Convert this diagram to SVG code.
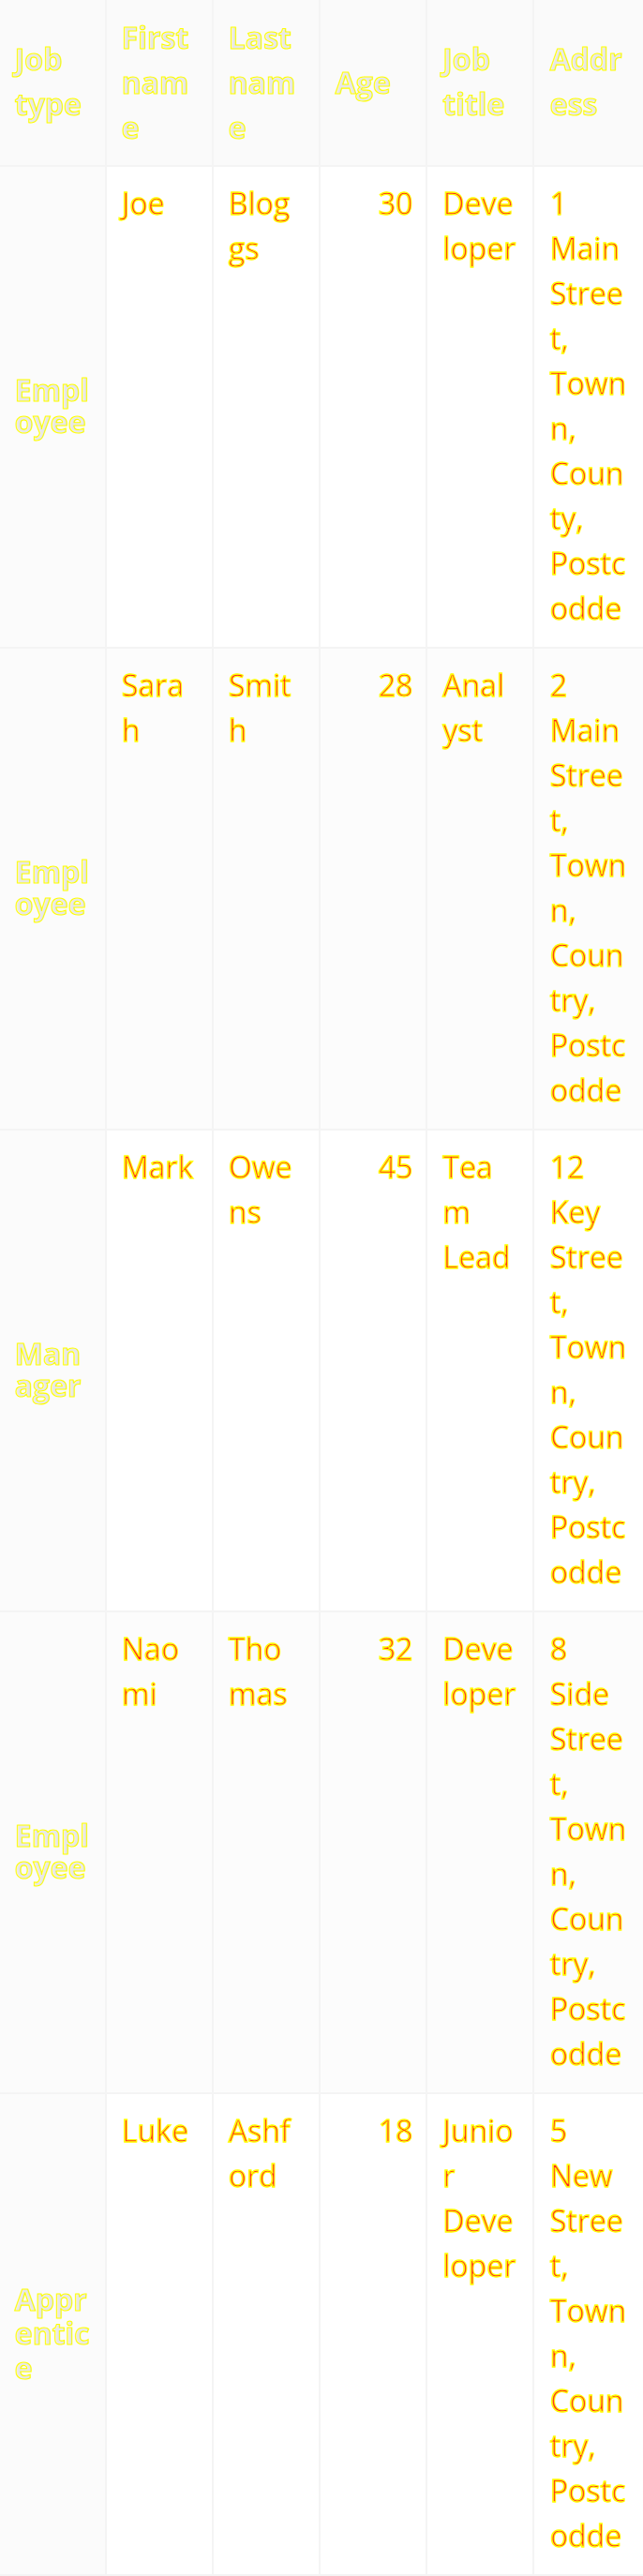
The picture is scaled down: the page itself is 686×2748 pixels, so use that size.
<svg xmlns="http://www.w3.org/2000/svg" width="686" height="2748" viewBox="0 0 686 2748">
<style>
.bd{fill:#f4f4f4}
.hc{fill:#fafafa}
.fc{fill:#fbfbfb}
.wc{fill:#ffffff}
.gc{fill:#fcfcfc}
text{font-family:"Open Sans","DejaVu Sans",sans-serif;font-size:32px}
.h{font-weight:bold;fill:#e8e8e8;stroke:#ffff00;stroke-width:1.1}
.d{fill:#ff2020;stroke:#ffff00;stroke-width:1.3}
.n{text-anchor:end}
</style>
<rect class="bd" x="0" y="0" width="686" height="2748"/>
<g id="grid">
<rect class="hc" x="0" y="0" width="112" height="176"/>
<rect class="hc" x="114" y="0" width="112" height="176"/>
<rect class="hc" x="228" y="0" width="112" height="176"/>
<rect class="hc" x="342" y="0" width="112" height="176"/>
<rect class="hc" x="456" y="0" width="112" height="176"/>
<rect class="hc" x="570" y="0" width="116" height="176"/>
</g>
<g id="header">
<text class="h" x="16" y="75">Job<tspan x="16" dy="48">type</tspan></text>
<text class="h" x="130" y="51.5">First<tspan x="130" dy="48">nam</tspan><tspan x="130" dy="48">e</tspan></text>
<text class="h" x="244" y="51.5">Last<tspan x="244" dy="48">nam</tspan><tspan x="244" dy="48">e</tspan></text>
<text class="h" x="358" y="99.5">Age</text>
<text class="h" x="472.5" y="75">Job<tspan x="472.5" dy="48">title</tspan></text>
<text class="h" x="587" y="75">Addr<tspan x="587" dy="48">ess</tspan></text>
</g>
<g id="row1">
<rect class="fc" x="0" y="178" width="112" height="512"/>
<rect class="wc" x="114" y="178" width="112" height="512"/>
<rect class="wc" x="228" y="178" width="112" height="512"/>
<rect class="wc" x="342" y="178" width="112" height="512"/>
<rect class="wc" x="456" y="178" width="112" height="512"/>
<rect class="wc" x="570" y="178" width="116" height="512"/>
<text class="h" x="16" y="427.5">Empl<tspan x="16" dy="34.5">oyee</tspan></text>
<text class="d" x="130" y="229">Joe</text>
<text class="d" x="244" y="229">Blog<tspan x="244" dy="48">gs</tspan></text>
<text class="d n" x="440.5" y="229">30</text>
<text class="d" x="472.5" y="229">Deve<tspan x="472.5" dy="48">loper</tspan></text>
<text class="d" x="587" y="229">1<tspan x="587" dy="48">Main</tspan><tspan x="587" dy="48">Stree</tspan><tspan x="587" dy="48">t,</tspan><tspan x="587" dy="48">Town</tspan><tspan x="587" dy="48">n,</tspan><tspan x="587" dy="48">Coun</tspan><tspan x="587" dy="48">ty,</tspan><tspan x="587" dy="48">Postc</tspan><tspan x="587" dy="48">odde</tspan></text>
</g>
<g id="row2">
<rect class="fc" x="0" y="692" width="112" height="512"/>
<rect class="gc" x="114" y="692" width="112" height="512"/>
<rect class="gc" x="228" y="692" width="112" height="512"/>
<rect class="gc" x="342" y="692" width="112" height="512"/>
<rect class="gc" x="456" y="692" width="112" height="512"/>
<rect class="gc" x="570" y="692" width="116" height="512"/>
<text class="h" x="16" y="941.5">Empl<tspan x="16" dy="34.5">oyee</tspan></text>
<text class="d" x="130" y="743">Sara<tspan x="130" dy="48">h</tspan></text>
<text class="d" x="244" y="743">Smit<tspan x="244" dy="48">h</tspan></text>
<text class="d n" x="440.5" y="743">28</text>
<text class="d" x="472.5" y="743">Anal<tspan x="472.5" dy="48">yst</tspan></text>
<text class="d" x="587" y="743">2<tspan x="587" dy="48">Main</tspan><tspan x="587" dy="48">Stree</tspan><tspan x="587" dy="48">t,</tspan><tspan x="587" dy="48">Town</tspan><tspan x="587" dy="48">n,</tspan><tspan x="587" dy="48">Coun</tspan><tspan x="587" dy="48">try,</tspan><tspan x="587" dy="48">Postc</tspan><tspan x="587" dy="48">odde</tspan></text>
</g>
<g id="row3">
<rect class="fc" x="0" y="1206" width="112" height="512"/>
<rect class="wc" x="114" y="1206" width="112" height="512"/>
<rect class="wc" x="228" y="1206" width="112" height="512"/>
<rect class="wc" x="342" y="1206" width="112" height="512"/>
<rect class="wc" x="456" y="1206" width="112" height="512"/>
<rect class="wc" x="570" y="1206" width="116" height="512"/>
<text class="h" x="16" y="1455.5">Man<tspan x="16" dy="34.5">ager</tspan></text>
<text class="d" x="130" y="1257">Mark</text>
<text class="d" x="244" y="1257">Owe<tspan x="244" dy="48">ns</tspan></text>
<text class="d n" x="440.5" y="1257">45</text>
<text class="d" x="472.5" y="1257">Tea<tspan x="472.5" dy="48">m</tspan><tspan x="472.5" dy="48">Lead</tspan></text>
<text class="d" x="587" y="1257">12<tspan x="587" dy="48">Key</tspan><tspan x="587" dy="48">Stree</tspan><tspan x="587" dy="48">t,</tspan><tspan x="587" dy="48">Town</tspan><tspan x="587" dy="48">n,</tspan><tspan x="587" dy="48">Coun</tspan><tspan x="587" dy="48">try,</tspan><tspan x="587" dy="48">Postc</tspan><tspan x="587" dy="48">odde</tspan></text>
</g>
<g id="row4">
<rect class="fc" x="0" y="1720" width="112" height="512"/>
<rect class="gc" x="114" y="1720" width="112" height="512"/>
<rect class="gc" x="228" y="1720" width="112" height="512"/>
<rect class="gc" x="342" y="1720" width="112" height="512"/>
<rect class="gc" x="456" y="1720" width="112" height="512"/>
<rect class="gc" x="570" y="1720" width="116" height="512"/>
<text class="h" x="16" y="1969.5">Empl<tspan x="16" dy="34.5">oyee</tspan></text>
<text class="d" x="130" y="1771">Nao<tspan x="130" dy="48">mi</tspan></text>
<text class="d" x="244" y="1771">Tho<tspan x="244" dy="48">mas</tspan></text>
<text class="d n" x="440.5" y="1771">32</text>
<text class="d" x="472.5" y="1771">Deve<tspan x="472.5" dy="48">loper</tspan></text>
<text class="d" x="587" y="1771">8<tspan x="587" dy="48">Side</tspan><tspan x="587" dy="48">Stree</tspan><tspan x="587" dy="48">t,</tspan><tspan x="587" dy="48">Town</tspan><tspan x="587" dy="48">n,</tspan><tspan x="587" dy="48">Coun</tspan><tspan x="587" dy="48">try,</tspan><tspan x="587" dy="48">Postc</tspan><tspan x="587" dy="48">odde</tspan></text>
</g>
<g id="row5">
<rect class="fc" x="0" y="2234" width="112" height="512"/>
<rect class="wc" x="114" y="2234" width="112" height="512"/>
<rect class="wc" x="228" y="2234" width="112" height="512"/>
<rect class="wc" x="342" y="2234" width="112" height="512"/>
<rect class="wc" x="456" y="2234" width="112" height="512"/>
<rect class="wc" x="570" y="2234" width="116" height="512"/>
<text class="h" x="16" y="2464.5">Appr<tspan x="16" dy="36.5">entic</tspan><tspan x="16" dy="36.5">e</tspan></text>
<text class="d" x="130" y="2285">Luke</text>
<text class="d" x="244" y="2285">Ashf<tspan x="244" dy="48">ord</tspan></text>
<text class="d n" x="440.5" y="2285">18</text>
<text class="d" x="472.5" y="2285">Junio<tspan x="472.5" dy="48">r</tspan><tspan x="472.5" dy="48">Deve</tspan><tspan x="472.5" dy="48">loper</tspan></text>
<text class="d" x="587" y="2285">5<tspan x="587" dy="48">New</tspan><tspan x="587" dy="48">Stree</tspan><tspan x="587" dy="48">t,</tspan><tspan x="587" dy="48">Town</tspan><tspan x="587" dy="48">n,</tspan><tspan x="587" dy="48">Coun</tspan><tspan x="587" dy="48">try,</tspan><tspan x="587" dy="48">Postc</tspan><tspan x="587" dy="48">odde</tspan></text>
</g>
</svg>
